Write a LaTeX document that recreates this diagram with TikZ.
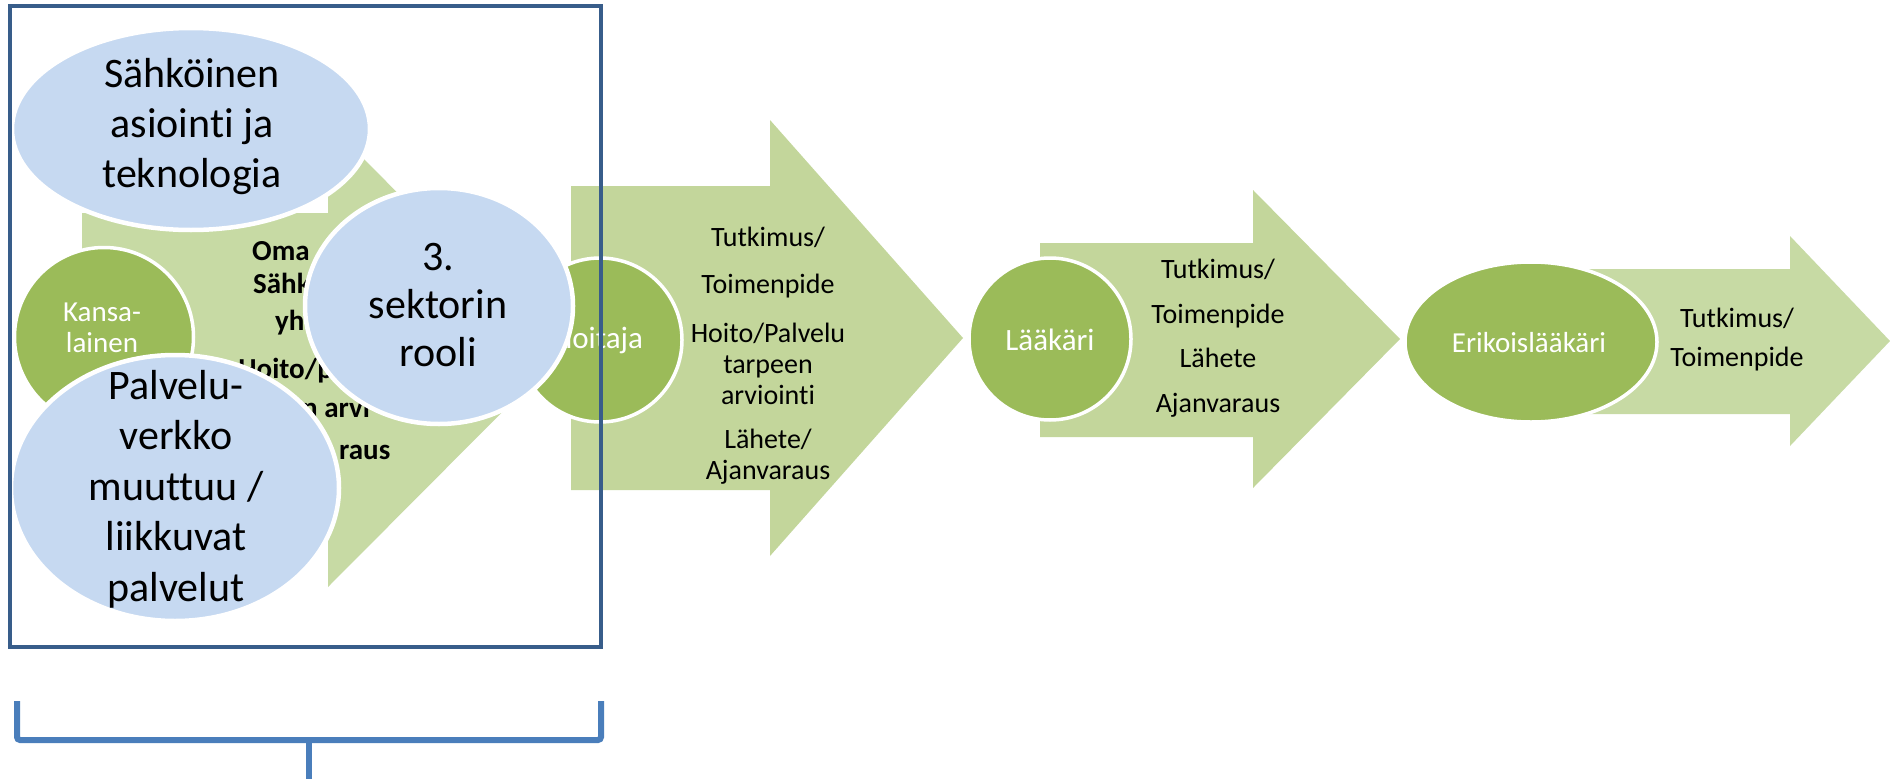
\documentclass[tikz,border=0pt]{standalone}
\usepackage{fontspec}
\setmainfont{Carlito}[Ligatures=NoCommon]
\usetikzlibrary{shapes.geometric}
\definecolor{arrowgreen}{HTML}{C3D69B}
\definecolor{arrowtex}{HTML}{C7DAA4}
\definecolor{circgreen}{HTML}{9BBB59}
\definecolor{ellblue}{HTML}{C6D9F1}
\definecolor{framecol}{HTML}{385D8A}
\definecolor{bracecol}{HTML}{4A7EBB}
\begin{document}
\begin{tikzpicture}[x=1pt,y=-1pt,
  arrowsolid/.style={fill=arrowgreen, draw=none},
  arrowtextured/.style={fill=arrowtex, draw=none},
  greencirc/.style={circle, fill=circgreen, draw=white, line width=3.5pt, inner sep=0pt},
  greenell/.style={ellipse, fill=circgreen, draw=white, line width=3.5pt, inner sep=0pt},
  blueell/.style={ellipse, fill=ellblue, draw=white, line width=4.5pt, inner sep=0pt},
  whitetxt/.style={text=white, align=center, inner sep=0pt, font=\fontsize{31}{36}\selectfont},
  blacktxt/.style={text=black, align=center, inner sep=0pt, font=\fontsize{28}{31}\selectfont},
  boldfrag/.style={text=black, inner sep=0pt, font=\bfseries\fontsize{29}{32}\selectfont},
  bigtxt/.style={text=black, align=center, inner sep=0pt, font=\fontsize{42}{50}\selectfont},
  framebox/.style={draw=framecol, line width=4pt},
  bracket/.style={draw=bracecol, line width=6pt, rounded corners=3pt},
]
\useasboundingbox (0,0) rectangle (1890,779);

% arrows
\fill[arrowtextured] (82,213) -- (328,213) -- (328,123) -- (559,355) -- (328,587) -- (328,497) -- (82,497) -- cycle;
\fill[arrowsolid] (571,186) -- (770,186) -- (770,120) -- (963,338) -- (770,556) -- (770,490) -- (571,490) -- cycle;
\fill[arrowsolid] (1040,243) -- (1253,243) -- (1253,190) -- (1400,339) -- (1253,488) -- (1253,437) -- (1040,437) -- cycle;
\fill[arrowtextured] (1560,269) -- (1790,269) -- (1790,236) -- (1890,341) -- (1790,446) -- (1790,414) -- (1560,414) -- cycle;

% partially hidden text of the first arrow
\node[boldfrag, anchor=west] (f1) at (252,251) {Oma};
\node[boldfrag, anchor=west] (f2) at (253,283) {Sähk};
\node[boldfrag, anchor=west] (f3) at (275,323) {yht};
\node[boldfrag, anchor=east] (f4) at (333,371) {Hoito/p};
\node[boldfrag, anchor=west] (f5) at (302,407) {n arvi};
\node[boldfrag, anchor=west] (f6) at (339,452) {raus};

% green circles
\node[greencirc, minimum size=179pt] (kansa) at (104,337) {};
\node[whitetxt, font=\fontsize{29}{31}\selectfont] (kansat) at (102,328) {Kansa-\\lainen};
\node[greencirc, minimum size=164pt] (hoit) at (600,340) {};
\node[whitetxt] (hoitt) at (598,340) {Hoitaja};
\node[greencirc, minimum size=162pt] (laak) at (1050,339) {};
\node[whitetxt] (laakt) at (1050,340) {Lääkäri};
\node[greenell, minimum width=252pt, minimum height=160pt] (erik) at (1531,342) {};
\node[whitetxt, font=\fontsize{29}{34}\selectfont] (erikt) at (1529,343) {Erikoislääkäri};

% arrow texts
\node[blacktxt] (a2a) at (768,237) {Tutkimus/};
\node[blacktxt] (a2b) at (768,286) {Toimenpide};
\node[blacktxt] (a2c) at (768,364) {Hoito/Palvelu\\tarpeen\\arviointi};
\node[blacktxt] (a2d) at (768,457) {Lähete/\\Ajanvaraus};
\node[blacktxt, font=\fontsize{28}{44.5}\selectfont] (a3) at (1218,338) {Tutkimus/\\Toimenpide\\Lähete\\Ajanvaraus};
\node[blacktxt, font=\fontsize{28}{39}\selectfont] (a4) at (1737,340) {Tutkimus/\\Toimenpide};

% blue ellipses
\node[blueell, minimum width=358pt, minimum height=202pt] (sahko) at (191,129) {};
\node[bigtxt] (sahkot) at (192,127) {Sähköinen\\asiointi ja\\teknologia};
\node[blueell, minimum width=328pt, minimum height=266pt] (palv) at (175,488) {};
\node[bigtxt, font=\fontsize{42}{50.5}\selectfont] (palvt) at (176,489) {Palvelu-\\verkko\\muuttuu /\\liikkuvat\\palvelut};
\node[blueell, minimum width=268pt, minimum height=236pt] (sekt) at (439,306) {};
\node[bigtxt, font=\fontsize{42}{48}\selectfont] (sektt) at (438,305) {3.\\sektorin\\rooli};

% frame and bracket
\coordinate (ftl) at (10,6);
\coordinate (fbr) at (601,647);
\draw[framebox] (ftl) rectangle (fbr);
\coordinate (bl) at (17,701);
\coordinate (br) at (601,701);
\coordinate (bm) at (309,740);
\coordinate (bend) at (309,782);
\draw[bracket] (bl) -- (17,740) -- (601,740) -- (br);
\draw[draw=bracecol, line width=6pt] (bm) -- (bend);
\end{tikzpicture}
\end{document}
